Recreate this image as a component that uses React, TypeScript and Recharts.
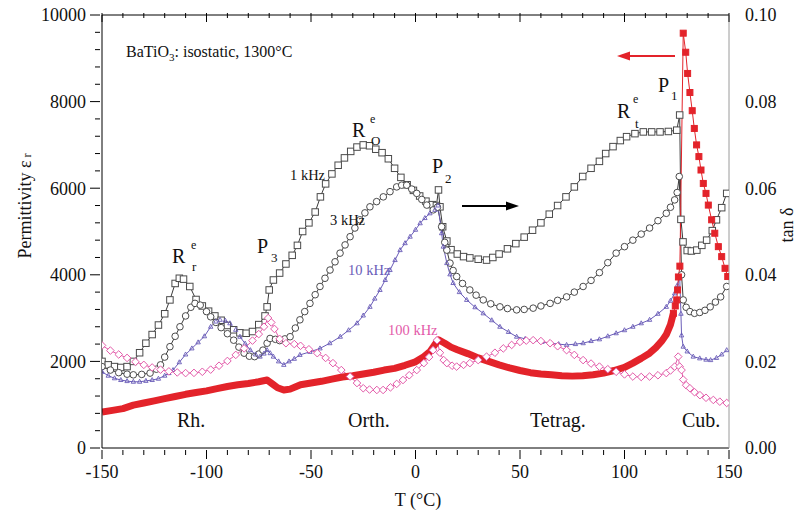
import React from 'react';
import { LineChart, Line, XAxis, YAxis } from 'recharts';

// temperature (°C) vs tan δ
const tan1k: [number, number][] = [
  [-150, 0.02], [-147, 0.0192], [-144, 0.0188], [-141, 0.0186], [-138, 0.0188], [-135, 0.02], [-132, 0.022],
  [-129, 0.0242], [-126, 0.0262], [-123, 0.0284], [-120, 0.031], [-117.5, 0.0342], [-115, 0.038], [-113, 0.0392],
  [-111, 0.039], [-108, 0.0373], [-105, 0.0343], [-102, 0.0328], [-99, 0.0316], [-96, 0.0305], [-93, 0.0295],
  [-90, 0.0283], [-87, 0.0273], [-84, 0.0266], [-81, 0.0265], [-78, 0.0269], [-75, 0.0285], [-72, 0.0305],
  [-71, 0.0326], [-70, 0.0365], [-68, 0.0388], [-65, 0.0404], [-62, 0.0425], [-59, 0.0445], [-56.5, 0.0468],
  [-54, 0.05], [-51, 0.052], [-48, 0.0545], [-45.5, 0.058], [-43, 0.061], [-40, 0.0633], [-37, 0.0653],
  [-34, 0.067], [-31, 0.0685], [-28, 0.0695], [-25, 0.07], [-22, 0.0698], [-19, 0.069], [-16, 0.0682],
  [-13, 0.0668], [-10, 0.0646], [-7, 0.0625], [-4, 0.0608], [-1, 0.0595], [2, 0.0582], [5, 0.057], [8, 0.0562],
  [10, 0.056], [11, 0.0596], [11.7, 0.0557], [13, 0.0511], [15, 0.0478], [17, 0.0458], [20, 0.0448], [23, 0.0442],
  [26, 0.0439], [30, 0.0436], [34, 0.0434], [37, 0.044], [40, 0.0448], [44, 0.046], [48, 0.0472], [52, 0.0487],
  [56, 0.0503], [60, 0.052], [64, 0.054], [68, 0.056], [72, 0.058], [76, 0.0603], [80, 0.0627], [84, 0.0646],
  [88, 0.0662], [91, 0.068], [94.5, 0.0696], [98, 0.071], [101, 0.0719], [105, 0.0726], [109, 0.073],
  [113, 0.073], [117, 0.073], [121, 0.0731], [125, 0.0734], [126.4, 0.0769], [127, 0.0528], [128, 0.0476],
  [130, 0.0456], [132, 0.0455], [134.6, 0.0457], [137, 0.0468], [139.3, 0.048], [142, 0.0502], [144, 0.0527],
  [146.5, 0.0555], [148.9, 0.0588],
];

const tan3k: [number, number][] = [
  [-150, 0.0188], [-146, 0.018], [-142, 0.0174], [-138, 0.01705], [-135, 0.0169], [-131, 0.017], [-127, 0.0173],
  [-124, 0.0182], [-122, 0.0192], [-120, 0.021], [-117.5, 0.0234], [-115, 0.0258], [-112.7, 0.028], [-110, 0.0305],
  [-107.5, 0.0325], [-105.5, 0.0334], [-103, 0.033], [-100, 0.0315], [-98, 0.0303], [-95.5, 0.029], [-93, 0.0278],
  [-90, 0.0264], [-87, 0.0249], [-84.5, 0.0233], [-82, 0.0219], [-79.5, 0.0212], [-77, 0.0211], [-75, 0.0217],
  [-73, 0.0226], [-71, 0.0242], [-69.6, 0.0253], [-67, 0.0251], [-65, 0.0248], [-62.5, 0.0252], [-60, 0.0257],
  [-57.5, 0.0277], [-55.3, 0.0296], [-53, 0.0315], [-50.5, 0.0334], [-48, 0.0354], [-45.7, 0.0373], [-43.3, 0.0392],
  [-40.9, 0.0411], [-38.5, 0.043], [-36.1, 0.045], [-33.7, 0.0469], [-31.3, 0.0488], [-29, 0.0508], [-26.6, 0.0527],
  [-24.2, 0.0543], [-21.8, 0.0557], [-18.6, 0.0569], [-15.4, 0.058], [-12.2, 0.0592], [-9, 0.0603], [-6.6, 0.0607],
  [-4.2, 0.0607], [-1.8, 0.0598], [0.6, 0.0588], [3, 0.0574], [5.4, 0.0561], [8.5, 0.055], [10.5, 0.0556],
  [12.5, 0.0511], [14, 0.0475], [15, 0.0457], [16.5, 0.0427], [18, 0.041], [19.7, 0.0396], [22.5, 0.038],
  [26, 0.0365], [29, 0.0353], [32.4, 0.0342], [36, 0.0333], [40.4, 0.0326], [44, 0.0322], [48.4, 0.0319],
  [52, 0.032], [56.3, 0.0323], [60, 0.0328], [64.4, 0.0334], [68, 0.0341], [72.3, 0.0349], [76, 0.036],
  [80.2, 0.0373], [84, 0.0387], [88, 0.0405], [92, 0.0428], [96, 0.045], [100, 0.0465], [104, 0.048],
  [108, 0.0494], [112, 0.0508], [116, 0.0525], [120, 0.0542], [122, 0.0556], [124, 0.0573], [125.2, 0.059],
  [126.2, 0.0627], [127.3, 0.04], [128.1, 0.0342], [129.5, 0.0325], [131.3, 0.0315], [133.5, 0.0311],
  [136, 0.0313], [138.5, 0.0318], [141, 0.0326], [143.5, 0.0337], [146, 0.0349], [148.9, 0.0373],
];

const tan10k: [number, number][] = [
  [-150, 0.0176], [-147, 0.0167], [-144, 0.0161], [-141, 0.0157], [-138, 0.01545], [-135, 0.0153], [-132, 0.0153],
  [-129, 0.0155], [-126, 0.0157], [-123, 0.016], [-120, 0.0167], [-118, 0.0173], [-116, 0.018], [-113, 0.0198],
  [-110, 0.0216], [-107, 0.023], [-104, 0.0244], [-101, 0.0258], [-98, 0.028], [-95.5, 0.0292], [-93.5, 0.0296],
  [-91, 0.0294], [-88.8, 0.0288], [-86, 0.0273], [-84, 0.0257], [-81.5, 0.0241], [-79, 0.0226], [-76.5, 0.0216],
  [-74.4, 0.0211], [-72.5, 0.0218], [-71, 0.0226], [-69.5, 0.0219], [-68, 0.0211], [-65.5, 0.02], [-63, 0.0192],
  [-60.5, 0.02], [-58, 0.0206], [-55.3, 0.0215], [-50.5, 0.0222], [-45.7, 0.023], [-41, 0.0242], [-36, 0.0257],
  [-32, 0.0272], [-28, 0.0288], [-25, 0.0306], [-21.8, 0.0326], [-19.5, 0.0345], [-17, 0.0365], [-14.5, 0.0388],
  [-12.2, 0.0411], [-9.8, 0.0434], [-7.4, 0.0457], [-5, 0.0473], [-2.6, 0.0488], [0, 0.0504], [2.2, 0.0519],
  [4.5, 0.0531], [6.9, 0.0542], [9.3, 0.055], [10.8, 0.056], [12.5, 0.0496], [13.3, 0.0465], [15, 0.0427],
  [16.5, 0.0401], [18, 0.0381], [21, 0.036], [24.5, 0.0342], [28.5, 0.0325], [32.4, 0.0311], [36.5, 0.0295],
  [40.4, 0.028], [44.5, 0.0268], [48.4, 0.0257], [52.5, 0.0252], [56.3, 0.0249], [60.5, 0.0245], [64.4, 0.0242],
  [68.5, 0.024], [72.3, 0.0238], [76.5, 0.024], [80.2, 0.0242], [84, 0.0247], [88, 0.0251], [92, 0.0258],
  [96, 0.0265], [100, 0.0272], [104, 0.028], [108, 0.0288], [112, 0.0296], [116, 0.031], [120, 0.0326],
  [122, 0.034], [124, 0.0357], [125.3, 0.0376], [126.4, 0.0396], [127, 0.031], [127.3, 0.026], [128.1, 0.0234],
  [130, 0.0223], [132.9, 0.0211], [136, 0.0207], [139, 0.0204], [141.2, 0.0203], [144, 0.0208], [146.5, 0.0216],
  [148.9, 0.0226],
];

const tan100k: [number, number][] = [
  [-150, 0.0237], [-146, 0.0225], [-142, 0.0216], [-138, 0.0208], [-134, 0.0199], [-130, 0.0192], [-126, 0.0186],
  [-122, 0.0181], [-118, 0.0177], [-114, 0.01745], [-110, 0.0173], [-106, 0.01735], [-102, 0.0176], [-98, 0.0181],
  [-94, 0.019], [-90, 0.0201], [-86, 0.0215], [-82, 0.023], [-78, 0.0248], [-75, 0.0263], [-72.5, 0.028],
  [-70.5, 0.03], [-69, 0.029], [-67.5, 0.0275], [-65, 0.0252], [-62, 0.0242], [-58, 0.024], [-55, 0.0236],
  [-51, 0.0228], [-47, 0.0219], [-43, 0.0208], [-39.5, 0.0196], [-35.5, 0.018], [-31.3, 0.0165], [-28, 0.015],
  [-25, 0.0138], [-22, 0.0135], [-18.5, 0.0134], [-15.5, 0.0134], [-12, 0.014], [-9, 0.0148], [-6, 0.0157],
  [-3, 0.0168], [0.6, 0.018], [4, 0.0196], [6.5, 0.021], [8.4, 0.0226], [10.3, 0.0249], [11.7, 0.022],
  [13.5, 0.0203], [15, 0.0196], [17.5, 0.019], [19.7, 0.0188], [23, 0.0192], [26, 0.0196], [30, 0.0203],
  [34, 0.0211], [38, 0.022], [42, 0.023], [46, 0.0238], [50, 0.0245], [53, 0.0248], [56.3, 0.0249], [60, 0.0247],
  [64.4, 0.0242], [68, 0.0235], [72.3, 0.0226], [76, 0.0215], [80.2, 0.0203], [84, 0.0195], [88, 0.0188],
  [92, 0.0182], [96, 0.0176], [100, 0.017], [104, 0.0165], [108, 0.0164], [112, 0.0165], [116, 0.0168],
  [120, 0.0173], [122, 0.0179], [124, 0.0188], [125.7, 0.0211], [126.4, 0.0188], [127.3, 0.018], [128.1, 0.0158],
  [129.5, 0.0145], [131.3, 0.0138], [133.5, 0.0129], [136.1, 0.0122], [139, 0.0116], [142.5, 0.0111],
  [145.6, 0.0107], [148.9, 0.0104],
];

// permittivity εr (left axis)
const epsBand: [number, number][] = [
  [-150, 830], [-145, 870], [-140, 910], [-135, 990], [-130, 1040], [-125, 1090], [-120, 1140], [-115, 1190],
  [-110, 1240], [-105, 1280], [-100, 1320], [-95, 1370], [-90, 1420], [-85, 1460], [-80, 1490], [-75, 1530],
  [-71, 1570], [-68.5, 1480], [-66, 1390], [-63, 1340], [-60, 1360], [-57, 1420], [-55, 1460], [-50, 1500],
  [-45, 1540], [-40, 1590], [-35, 1640], [-30, 1670], [-25, 1710], [-20, 1750], [-15, 1800], [-10, 1840],
  [-5, 1910], [0, 1990], [4, 2110], [7, 2230], [9, 2370], [11, 2500], [14, 2420], [17, 2330], [20, 2270],
  [25, 2180], [30, 2080], [35, 2000], [40, 1920], [45, 1850], [50, 1790], [55, 1740], [60, 1710], [65, 1690],
  [70, 1670], [75, 1660], [80, 1670], [85, 1690], [90, 1730], [95, 1790], [100, 1860], [104, 1960], [108, 2070],
  [112, 2190], [115, 2320], [118, 2480], [120, 2620], [122, 2850], [123.4, 3110],
];

const epsPeak: [number, number][] = [
  [123.4, 3110], [124.3, 3280], [125, 3420], [125.4, 3650], [125.8, 3950], [126.5, 4200], [128.1, 9580],
  [129.3, 9140], [130.2, 8650], [131.3, 8210], [132.4, 7790], [133.4, 7380], [134.5, 7000], [135.6, 6730],
  [136.6, 6420], [137.7, 6110], [139, 5880], [140.1, 5610], [141.7, 5270], [143.2, 4960], [144.9, 4650],
  [146.5, 4420], [148.1, 4150], [149.4, 3960],
];

const xTicks = [-150, -140, -130, -120, -110, -100, -90, -80, -70, -60, -50, -40, -30, -20, -10, 0,
  10, 20, 30, 40, 50, 60, 70, 80, 90, 100, 110, 120, 130, 140, 150];
const epsTicks = [0, 400, 800, 1200, 1600, 2000, 2400, 2800, 3200, 3600, 4000, 4400, 4800, 5200, 5600, 6000,
  6400, 6800, 7200, 7600, 8000, 8400, 8800, 9200, 9600, 10000];
const tanTicks = [0, 0.02, 0.04, 0.06, 0.08, 0.1];

const FONT = '"Liberation Serif", "Times New Roman", serif';
const RED = '#e3232a';
const GREY = '#3a3a3a';
const BLUE = '#6a5cb8';
const PINK = '#e35aa9';

const toRows = (pts: [number, number][]) => pts.map(([t, v]) => ({ t, v }));

const BottomTick = (p: any) => {
  const major = p.payload.value % 50 === 0;
  return (
    <g>
      <line x1={p.x} x2={p.x} y1={p.y} y2={p.y + (major ? 9 : 5)} stroke="#000" />
      {major && (
        <text x={p.x} y={p.y + 28} textAnchor="middle" fontSize={18} fontFamily={FONT} fill="#111">
          {p.payload.value}
        </text>
      )}
    </g>
  );
};

const TopTick = (p: any) => {
  const major = p.payload.value % 50 === 0;
  return <line x1={p.x} x2={p.x} y1={p.y} y2={p.y + (major ? 9 : 5)} stroke="#000" />;
};

const LeftTick = (p: any) => {
  const major = p.payload.value % 2000 === 0;
  return (
    <g>
      <line x1={p.x - (major ? 10 : 5)} x2={p.x} y1={p.y} y2={p.y} stroke="#000" />
      {major && (
        <text x={p.x - 14} y={p.y} dy="0.35em" textAnchor="end" fontSize={18} fontFamily={FONT} fill="#111">
          {p.payload.value}
        </text>
      )}
    </g>
  );
};

const RightTick = (p: any) => (
  <text x={p.x + 14} y={p.y} dy="0.35em" textAnchor="start" fontSize={18} fontFamily={FONT} fill="#111">
    {Number(p.payload.value).toFixed(2)}
  </text>
);

const squareDot = (stroke: string, fill: string, s: number) => (p: any) => (
  <rect key={`sq-${p.index}`} x={p.cx - s / 2} y={p.cy - s / 2} width={s} height={s}
    fill={fill} stroke={stroke} strokeWidth={1} />
);

const triDot = (p: any) => (
  <path key={`tr-${p.index}`} d={`M${p.cx},${p.cy - 2.5} L${p.cx + 2.2},${p.cy + 1.5} L${p.cx - 2.2},${p.cy + 1.5} Z`}
    fill="none" stroke={BLUE} strokeWidth={0.9} />
);

const diamondDot = (p: any) => (
  <path key={`di-${p.index}`} d={`M${p.cx},${p.cy - 3.8} L${p.cx + 3.8},${p.cy} L${p.cx},${p.cy + 3.8} L${p.cx - 3.8},${p.cy} Z`}
    fill="#fff" stroke={PINK} strokeWidth={1} />
);

const txt = { fontFamily: FONT, fill: '#111' };

export default function App() {
  return (
    <div style={{ position: 'absolute', left: 0, top: 0, width: 799, height: 516, background: '#fff' }}>
      <LineChart width={799} height={516} margin={{ top: 0, right: 0, bottom: 0, left: 0 }}>
        <XAxis xAxisId="top" orientation="top" type="number" dataKey="t" domain={[-150, 150]} ticks={xTicks}
          interval={0} height={15} tickSize={0} tickLine={false} tick={TopTick} stroke="#000" allowDataOverflow />
        <XAxis type="number" dataKey="t" domain={[-150, 150]} ticks={xTicks} interval={0} height={68}
          tickSize={0} tickLine={false} tick={BottomTick} stroke="#000" allowDataOverflow />
        <YAxis yAxisId="left" type="number" domain={[0, 10000]} ticks={epsTicks} interval={0} width={102}
          tickSize={0} tickLine={false} tick={LeftTick} stroke="#000" allowDataOverflow />
        <YAxis yAxisId="right" orientation="right" type="number" domain={[0, 0.1]} ticks={tanTicks} interval={0}
          width={70} tickSize={0} tickLine={false} tick={RightTick} stroke="#9a9a9a" allowDataOverflow />

        <Line data={toRows(tan1k)} dataKey="v" yAxisId="right" type="linear" stroke={GREY} strokeWidth={1}
          dot={squareDot('#4a4a4a', '#fff', 6.5)} activeDot={false} isAnimationActive={false} />
        <Line data={toRows(tan3k)} dataKey="v" yAxisId="right" type="linear" stroke={GREY} strokeWidth={1}
          dot={{ r: 3.3, fill: '#fff', stroke: '#4a4a4a', strokeWidth: 1 }} activeDot={false} isAnimationActive={false} />
        <Line data={toRows(tan10k)} dataKey="v" yAxisId="right" type="linear" stroke={BLUE} strokeWidth={1}
          dot={triDot} activeDot={false} isAnimationActive={false} />
        <Line data={toRows(tan100k)} dataKey="v" yAxisId="right" type="linear" stroke={PINK} strokeWidth={1}
          dot={diamondDot} activeDot={false} isAnimationActive={false} />
        <Line data={toRows(epsBand)} dataKey="v" yAxisId="left" type="linear" stroke={RED} strokeWidth={7}
          strokeLinejoin="round" dot={false} activeDot={false} isAnimationActive={false} />
        <Line data={toRows(epsPeak)} dataKey="v" yAxisId="left" type="linear" stroke={RED} strokeWidth={1}
          dot={squareDot(RED, RED, 6)} activeDot={false} isAnimationActive={false} />
      </LineChart>

      <svg width={799} height={516} style={{ position: 'absolute', left: 0, top: 0, pointerEvents: 'none' }}>
        <text x={126} y={57} fontSize={16} {...txt}>
          BaTiO<tspan fontSize={11} dy={4}>3</tspan><tspan dy={-4}>: isostatic, 1300°C</tspan>
        </text>

        <text x={172} y={263} fontSize={20} {...txt}>R</text>
        <text x={191} y={249} fontSize={12} {...txt}>e</text>
        <text x={192} y={271} fontSize={13} {...txt}>r</text>

        <text x={352} y={137} fontSize={20} {...txt}>R</text>
        <text x={370} y={123} fontSize={12} {...txt}>e</text>
        <text x={371} y={145} fontSize={13} {...txt}>O</text>

        <text x={617} y={118} fontSize={20} {...txt}>R</text>
        <text x={633} y={103} fontSize={12} {...txt}>e</text>
        <text x={635} y={128} fontSize={13} {...txt}>t</text>

        <text x={257} y={253} fontSize={20} {...txt}>P</text>
        <text x={271} y={262} fontSize={13} {...txt}>3</text>
        <text x={432} y={173} fontSize={20} {...txt}>P</text>
        <text x={445} y={183} fontSize={13} {...txt}>2</text>
        <text x={658} y={92} fontSize={20} {...txt}>P</text>
        <text x={671} y={100} fontSize={13} {...txt}>1</text>

        <text x={290} y={180} fontSize={14.5} {...txt}>1 kHz</text>
        <text x={330} y={225} fontSize={14.5} {...txt}>3 kHz</text>
        <text x={348} y={275} fontSize={14.5} fontFamily={FONT} fill={BLUE}>10 kHz</text>
        <text x={388} y={335} fontSize={14.5} fontFamily={FONT} fill={PINK}>100 kHz</text>

        <text x={177} y={427} fontSize={20} {...txt}>Rh.</text>
        <text x={348} y={427} fontSize={20} {...txt}>Orth.</text>
        <text x={530} y={427} fontSize={20} {...txt}>Tetrag.</text>
        <text x={682} y={427} fontSize={20} {...txt}>Cub.</text>

        <line x1={628} x2={675} y1={56} y2={56} stroke={RED} strokeWidth={2} />
        <path d="M617,56 L630,51.5 L630,60.5 Z" fill={RED} />
        <line x1={462} x2={508} y1={206} y2={206} stroke="#000" strokeWidth={2} />
        <path d="M519,206 L506,201.5 L506,210.5 Z" fill="#000" />

        <text x={418} y={506} fontSize={18} textAnchor="middle" {...txt}>T (°C)</text>
        <text transform="translate(31,206) rotate(-90)" fontSize={18} textAnchor="middle" {...txt}>
          Permittivity  ε<tspan fontSize={12} dx={3}>r</tspan>
        </text>
        <text transform="translate(793,225) rotate(-90)" fontSize={18} textAnchor="middle" {...txt}>tan δ</text>
      </svg>
    </div>
  );
}
